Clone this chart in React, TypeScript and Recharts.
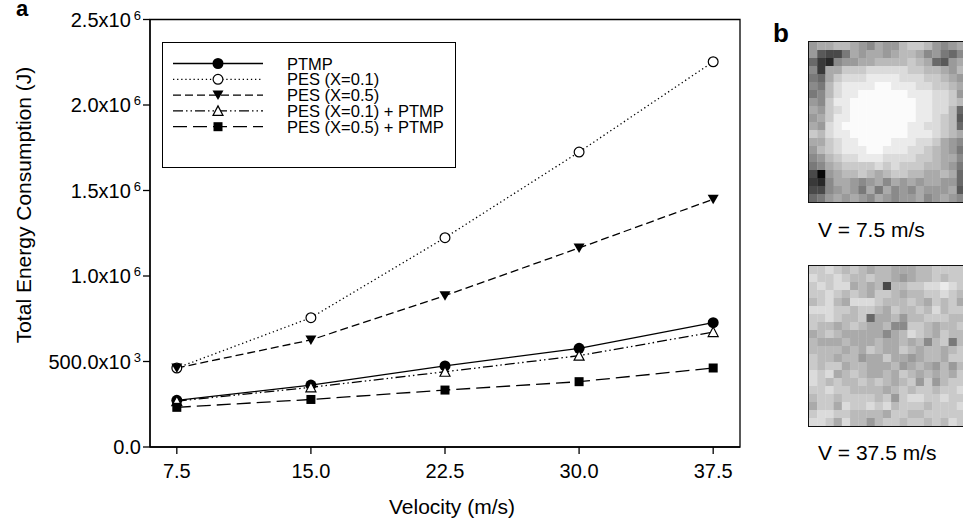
import React from 'react';
import {
  LineChart, Line, XAxis, YAxis, ReferenceArea, Label,
  ScatterChart, Scatter,
} from 'recharts';

const FONT = '"Liberation Sans", Arial, Helvetica, sans-serif';

// panel a
const velocities = [7.5, 15, 22.5, 30, 37.5];
const ptmp = [273000, 362000, 474000, 577000, 727000];
const pes01 = [462000, 756000, 1224000, 1725000, 2253000];
const pes05 = [462000, 626000, 885000, 1164000, 1449000];
const pes01Ptmp = [268000, 349000, 440000, 534000, 672000];
const pes05Ptmp = [232000, 278000, 333000, 382000, 462000];
const xTicks = [7.5, 15, 22.5, 30, 37.5];
const yTicks = [0, 500000, 1000000, 1500000, 2000000, 2500000];

// panel b, grey level per cell (0 = black, f = white)
const gridSlow = [
  '9aabba98a99bccb989a',
  '95447a9aa9abba89768',
  '632899aabbbbcba659a',
  '83aacccdddddccbba9b',
  '76acdddeeeedddccba9',
  '87bdeeeeffeeeddccba',
  '78bdeeffffffeeeddc9',
  '98ceeffffffffeeddcb',
  'a9cdeffffffffeeddb6',
  '9aceeffffffffeedcb5',
  'a9deffffffffeeddcb6',
  'cbdeefffffffeeedcba',
  'aacdeeffffeeeddca98',
  '9bcdeeeffeeeddcba97',
  '89bcddeeeddddccbaa8',
  '78abccccdcdcccbba97',
  '409abbcbabccbbaaba6',
  '328aa989a8a9a9aa996',
  '4489a97a7a898a999a5',
  '679a9a98a9899a89a98',
];

const gridFast = [
  'ccdcbcbabbaaabbcccc',
  'dccdcbbcbba9abbcbcc',
  'cdcddabab4bbccddedc',
  'ccdcbcbaccbabbccdcb',
  'bcdbadddcbbbcbacbca',
  'dddccbccbacbbcbdbcc',
  'ccdcbbc6aab9bbcccbb',
  'cbbabcbaab88ccbabbc',
  'abcbaaaaa8abdcbacbb',
  'baaabaaabaabab8bc7b',
  'bbbbabacbaacbabbabc',
  'cbbabb9aacaa9abbacc',
  'cbccabbaaab9aba9b9b',
  'dcdabcbaabacbababac',
  'dcbcbbcbcbabc9c9bcc',
  'ccdccbbbbabcbccbccd',
  'bccbccccbc9cddccdcc',
  'accadccdcdbcccbcccd',
  'cddccbbbbaccbbccccc',
  'ddcadbb9bccbccbcbdc',
];

const data = velocities.map((v, i) => ({
  v,
  ptmp: ptmp[i],
  pes01: pes01[i],
  pes05: pes05[i],
  pes01Ptmp: pes01Ptmp[i],
  pes05Ptmp: pes05Ptmp[i],
}));

type Kind = 'dot' | 'ring' | 'down' | 'up' | 'square';

const series: { key: string; name: string; dash?: string; kind: Kind }[] = [
  { key: 'ptmp', name: 'PTMP', kind: 'dot' },
  { key: 'pes01', name: 'PES (X=0.1)', dash: '1.3 2.8', kind: 'ring' },
  { key: 'pes05', name: 'PES (X=0.5)', dash: '8 4', kind: 'down' },
  { key: 'pes01Ptmp', name: 'PES (X=0.1) + PTMP', dash: '10 3 1.5 3 1.5 3', kind: 'up' },
  { key: 'pes05Ptmp', name: 'PES (X=0.5) + PTMP', dash: '14 6', kind: 'square' },
];

const Marker = ({ kind, cx, cy }: { kind: Kind; cx: number; cy: number }) => {
  if (cx == null || cy == null) return null;
  const r = 5.5;
  switch (kind) {
    case 'dot':
      return <circle cx={cx} cy={cy} r={r} fill="#000" />;
    case 'ring':
      return <circle cx={cx} cy={cy} r={r - 0.6} fill="#fff" stroke="#000" strokeWidth={1.2} />;
    case 'down':
      return <polygon points={`${cx - r},${cy - 4.5} ${cx + r},${cy - 4.5} ${cx},${cy + 5}`} fill="#000" />;
    case 'up':
      return (
        <polygon
          points={`${cx - 5},${cy + 4.5} ${cx + 5},${cy + 4.5} ${cx},${cy - 5}`}
          fill="#fff" stroke="#000" strokeWidth={1.2}
        />
      );
    default:
      return <rect x={cx - 4.5} y={cy - 4.5} width={9} height={9} fill="#000" />;
  }
};

const YTick = ({ x, y, payload }: any) => {
  const v = payload.value as number;
  if (v === 0) {
    return (
      <text x={x} y={y} dy={7} textAnchor="end" fontSize={20} fontFamily={FONT} fill="#000">0.0</text>
    );
  }
  const exp = v >= 1000000 ? 6 : 3;
  const mant = (v / Math.pow(10, exp)).toFixed(1);
  return (
    <text x={x} y={y} dy={7} textAnchor="end" fontSize={20} fontFamily={FONT} fill="#000">
      {`${mant}x10`}
      <tspan dx={3} dy={-7} fontSize={13}>{exp}</tspan>
    </text>
  );
};

const LegendBox = () => (
  <div
    style={{
      position: 'absolute', left: 162, top: 42, width: 294, height: 126,
      border: '1.2px solid #000', boxSizing: 'border-box', background: '#fff',
    }}
  >
    <svg width={292} height={124} style={{ display: 'block' }}>
      {series.map((s, i) => {
        const y = 20.5 + i * 15.8;
        return (
          <g key={s.key}>
            <line x1={10} x2={100} y1={y} y2={y} stroke="#000" strokeWidth={1.3} strokeDasharray={s.dash} />
            <Marker kind={s.kind} cx={55} cy={y} />
            <text x={124} y={y} dy={6} fontSize={16.5} fontFamily={FONT} fill="#000">{s.name}</text>
          </g>
        );
      })}
    </svg>
  </div>
);

const grey = (c: string) => {
  const n = Math.round(parseInt(c, 16) * 16.2 + 8);
  return `rgb(${n},${n},${n})`;
};

const HM_W = 156;
const HM_H = 160;

const Heatmap = ({ rows, top }: { rows: string[]; top: number }) => {
  const cols = 19;
  const cells: { x: number; y: number; c: string }[] = [];
  rows.forEach((row, r) => {
    for (let c = 0; c < cols; c++) {
      cells.push({ x: c + 0.5, y: r + 0.5, c: row[c] ?? row[row.length - 1] });
    }
  });
  const cw = HM_W / cols;
  const ch = HM_H / rows.length;
  return (
    <div style={{ position: 'absolute', left: 808, top, border: '1.6px solid #111', width: HM_W + 10, height: HM_H }}>
      <ScatterChart width={HM_W} height={HM_H} margin={{ top: 0, right: 0, bottom: 0, left: 0 }}>
        <XAxis type="number" dataKey="x" domain={[0, cols]} hide />
        <YAxis type="number" dataKey="y" domain={[0, rows.length]} reversed hide />
        <Scatter
          data={cells}
          isAnimationActive={false}
          shape={(p: any) => (
            <rect
              x={p.cx - cw / 2} y={p.cy - ch / 2} width={cw + 0.3} height={ch + 0.3}
              fill={grey(p.payload.c)}
            />
          )}
        />
      </ScatterChart>
    </div>
  );
};

export default function App() {
  return (
    <div
      style={{
        position: 'absolute', left: 0, top: 0, width: 963, height: 523,
        overflow: 'hidden', background: '#fff', fontFamily: FONT,
      }}
    >
      <LineChart width={760} height={523} data={data} margin={{ top: 19.5, right: 20, bottom: 16, left: 0 }}>
        <ReferenceArea x1={6} x2={39} y1={0} y2={2500000} fill="none" stroke="#000" strokeWidth={1.3} />
        <XAxis
          dataKey="v" type="number" domain={[6, 39]} ticks={xTicks} height={60}
          tickFormatter={(t: number) => t.toFixed(1)}
          tickSize={7} tickMargin={10}
          tick={{ fontSize: 20, fill: '#000', fontFamily: FONT }}
          stroke="#000" strokeWidth={1.3}
        >
          <Label
            content={() => (
              <text x={452} y={514} textAnchor="middle" fontSize={21} fontFamily={FONT} fill="#000">
                Velocity (m/s)
              </text>
            )}
          />
        </XAxis>
        <YAxis
          type="number" domain={[0, 2500000]} ticks={yTicks} width={150}
          tickSize={7} tickMargin={2} tick={<YTick />}
          stroke="#000" strokeWidth={1.3}
        >
          <Label
            content={() => (
              <text
                x={23} y={205} transform="rotate(-90 23 205)" textAnchor="middle"
                dominantBaseline="central" fontSize={21} fontFamily={FONT} fill="#000"
              >
                Total Energy Consumption (J)
              </text>
            )}
          />
        </YAxis>
        {series.map((s) => (
          <Line
            key={s.key}
            dataKey={s.key}
            name={s.name}
            stroke="#000"
            strokeWidth={1.3}
            strokeDasharray={s.dash}
            isAnimationActive={false}
            dot={(p: any) => <Marker key={`${s.key}-${p.index}`} kind={s.kind} cx={p.cx} cy={p.cy} />}
            activeDot={false}
          />
        ))}
      </LineChart>
      <LegendBox />
      <div style={{ position: 'absolute', left: 16, top: 0, fontSize: 22, lineHeight: '18px', fontWeight: 'bold' }}>a</div>
      <div style={{ position: 'absolute', left: 773, top: 20, fontSize: 26, lineHeight: '26px', fontWeight: 'bold' }}>b</div>
      <Heatmap rows={gridSlow} top={41} />
      <div style={{ position: 'absolute', left: 818, top: 218, fontSize: 21 }}>V = 7.5 m/s</div>
      <Heatmap rows={gridFast} top={265} />
      <div style={{ position: 'absolute', left: 818, top: 441, fontSize: 21 }}>V = 37.5 m/s</div>
    </div>
  );
}
